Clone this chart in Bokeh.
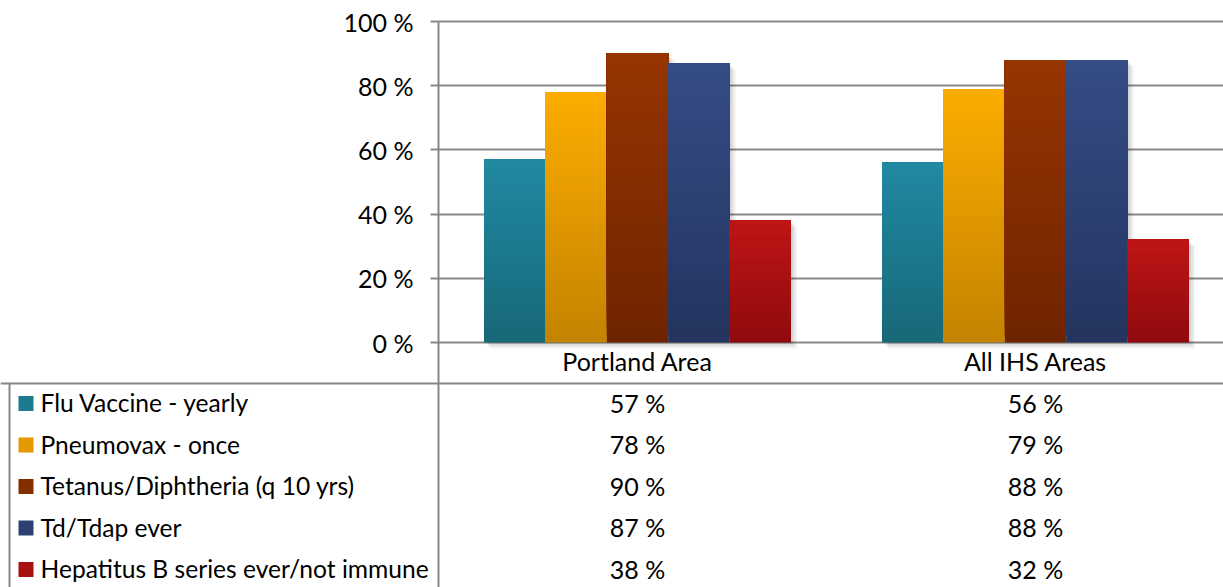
import numpy as np
from bokeh.plotting import figure
from bokeh.models import (ColumnDataSource, LinearAxis, FixedTicker, PrintfTickFormatter,
                          Range1d, Span, Grid)
from bokeh.core.properties import value
from bokeh.embed import file_html
from bokeh.resources import INLINE

# ---------------- data ----------------
categories = ["Portland Area", "All IHS Areas"]
series = ["Flu Vaccine - yearly", "Pneumovax - once", "Tetanus/Diphtheria (q 10 yrs)",
          "Td/Tdap ever", "Hepatitus B series ever/not immune"]
flu = [57, 56]
pneumovax = [78, 79]
tetanus = [90, 88]
tdap = [87, 88]
hepb = [38, 32]
y_ticks = [0, 20, 40, 60, 80, 100]

values = [flu, pneumovax, tetanus, tdap, hepb]
top_colors = ["#2189a2", "#fdad00", "#963500", "#354c85", "#bf1515"]
bottom_colors = ["#176878", "#c38300", "#6f2400", "#24345f", "#8f0a0d"]
mid_colors = ["#1d7b90", "#e29a00", "#842e00", "#2d4072", "#a81012"]

# ---------------- layout (pixels) ----------------
W, H = 1223, 587
AX_X = 438          # x pixel of the value axis
CAT_W = 398         # pixel width of one category
Y0 = 342            # pixel row of the 0 % line
PPU = 3.21          # pixels per percent
FONT = "Lato"
FS = "25px"
FS_LEG = "24.6px"
GRID_C = "#878787"

def dx(px):
    return (px - AX_X) / CAT_W

def dy(py):
    return (Y0 - py) / PPU

p = figure(width=W, height=H, output_backend="svg", toolbar_location=None,
           x_axis_type=None, y_axis_type=None,
           x_range=Range1d(dx(0), dx(W)), y_range=Range1d(dy(H), dy(0)),
           min_border=0, min_border_left=0, min_border_right=0,
           min_border_top=0, min_border_bottom=0)
p.outline_line_color = None
p.xgrid.visible = False
p.ygrid.visible = False
p.background_fill_color = "white"
p.border_fill_color = "white"

# grid lines
grid = Grid(dimension=1, ticker=FixedTicker(ticks=y_ticks),
            grid_line_color=GRID_C, grid_line_width=2)
try:
    grid.cross_bounds = (0, dx(W))
except Exception:
    pass
p.add_layout(grid)

# value axis
yaxis = LinearAxis(ticker=FixedTicker(ticks=y_ticks),
                   formatter=PrintfTickFormatter(format="%d %%"),
                   fixed_location=0, bounds=(dy(H), 100),
                   axis_line_color=GRID_C, axis_line_width=2,
                   major_tick_line_color=GRID_C, major_tick_line_width=2,
                   major_tick_out=8, major_tick_in=0,
                   minor_tick_line_color=None,
                   major_label_standoff=17,
                   major_label_text_font=FONT, major_label_text_font_size=FS,
                   major_label_text_color="#000000")
p.add_layout(yaxis, "left")

# category axis
xaxis = LinearAxis(ticker=FixedTicker(ticks=[0.5, 1.5]),
                   major_label_overrides={0.5: categories[0], 1.5: categories[1]},
                   fixed_location=0,
                   axis_line_color=None, major_tick_line_color=None,
                   minor_tick_line_color=None, major_label_standoff=-3,
                   major_label_text_font=FONT, major_label_text_font_size=FS,
                   major_label_text_color="#000000")
p.add_layout(xaxis, "below")

# table lines
p.add_layout(Span(location=dy(383), dimension="width", line_color=GRID_C, line_width=2))
p.segment(x0=[dx(9)], y0=[dy(383)], x1=[dx(9)], y1=[dy(H)], line_color=GRID_C, line_width=2)

# ---------------- bars ----------------
BW = 61.4 / CAT_W
N = 40

def hex2rgb(h):
    return np.array([int(h[i:i + 2], 16) for i in (1, 3, 5)], dtype=float)

def rgb2hex(c):
    return "#%02x%02x%02x" % tuple(int(round(v)) for v in c)

sh = dict(left=[], right=[], top=[], bottom=[], alpha=[])
sl = dict(left=[], right=[], top=[], bottom=[], color=[])
for s, vals in enumerate(values):
    ctop, cbot = hex2rgb(top_colors[s]), hex2rgb(bottom_colors[s])
    for i, v in enumerate(vals):
        xc = i + 0.5 + (s - 2) * BW
        left, right = xc - BW / 2, xc + BW / 2
        for off, a in ((2, 0.07), (4, 0.06), (6, 0.05)):
            sh["left"].append(left + off / CAT_W)
            sh["right"].append(right + off / CAT_W)
            sh["top"].append(v - off / PPU)
            sh["bottom"].append(-off / PPU)
            sh["alpha"].append(a)
        # gradient: each band runs from its own bottom to the bar top,
        # later bands cover earlier ones, so no seams show through
        for k in range(N):
            t = (k + 0.5) / N
            sl["left"].append(left)
            sl["right"].append(right)
            sl["bottom"].append(v * k / N)
            sl["top"].append(v)
            sl["color"].append(rgb2hex(cbot + (ctop - cbot) * t))

p.quad(left="left", right="right", top="top", bottom="bottom", source=ColumnDataSource(sh),
       fill_color="black", fill_alpha="alpha", line_color=None)
p.quad(left="left", right="right", top="top", bottom="bottom", source=ColumnDataSource(sl),
       fill_color="color", line_color=None)

# ---------------- data table ----------------
ROW_Y = [402, 443.5, 485, 526.5, 568]
row_y = [dy(r) for r in ROW_Y]

p.rect(x=[dx(25.5)] * 5, y=[dy(r + 1) for r in ROW_Y], width=15, height=15,
       width_units="screen", height_units="screen", fill_color=mid_colors, line_color=None)
p.text(x=[dx(40)] * 5, y=row_y, text=series, text_font=value(FONT), text_font_size=FS_LEG,
       text_baseline="middle", text_align="left", text_color="#000000")

tx, ty, tt = [], [], []
for s, vals in enumerate(values):
    for i, v in enumerate(vals):
        tx.append(i + 0.5)
        ty.append(row_y[s])
        tt.append("%d %%" % v)
p.text(x=tx, y=ty, text=tt, text_font=value(FONT), text_font_size=FS,
       text_baseline="middle", text_align="center", text_color="#000000")

open("out.html", "w").write(file_html(p, INLINE))
